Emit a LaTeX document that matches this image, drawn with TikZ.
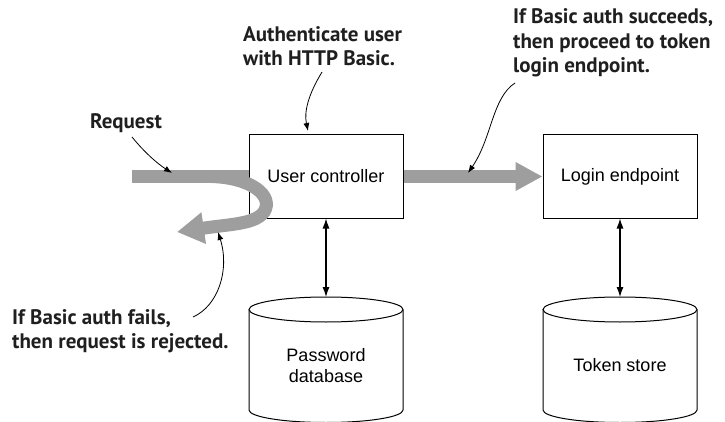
\documentclass[tikz,border=0pt]{standalone}
\usepackage{fontspec}
\setmainfont{Liberation Sans}
\newfontfamily\notefont{PT Sans}
\usetikzlibrary{arrows.meta}

\tikzset{
	box/.style={draw,line width=1pt,fill=white,minimum width=154pt,
		minimum height=83pt,inner sep=0pt,
		font=\fontsize{18}{22}\selectfont},
	storetext/.style={align=center,inner sep=0pt,
		font=\fontsize{18}{21}\selectfont},
	note/.style={align=left,inner sep=0pt,anchor=west,
		text=black!88,font=\notefont\bfseries\fontsize{21}{24.5}\selectfont},
	flow/.style={line width=13pt,color=black!38},
	callout/.style={line width=0.8pt,-{Latex[length=8pt,width=6pt]}},
	link/.style={line width=1.1pt,{Latex[length=10pt,width=7pt]}-{Latex[length=10pt,width=7pt]}}
}

\begin{document}
\begin{tikzpicture}[x=1pt,y=-1pt]

\def\storetop{309.5}
\def\storebottom{410}
\def\rx{77}
\def\ry{12.5}

\useasboundingbox (0,0) rectangle (725,422);

\node (uc) at (326,176.5) [box] {User controller};
\node (login) at (620,176.5) [box] {Login endpoint};

% data stores
\draw[line width=1pt,fill=white] (249,\storetop) -- (249,\storebottom)
	arc[start angle=180,end angle=0,x radius=\rx,y radius=\ry]
	-- (403,\storetop);
\draw[line width=1pt] (326,\storetop) ellipse[x radius=\rx,y radius=\ry];
\coordinate (pwdbtop) at (326,297);
\node (pwdb) at (326,366) [storetext] {Password\\database};

\draw[line width=1pt,fill=white] (543,\storetop) -- (543,\storebottom)
	arc[start angle=180,end angle=0,x radius=\rx,y radius=\ry]
	-- (697,\storetop);
\draw[line width=1pt] (620,\storetop) ellipse[x radius=\rx,y radius=\ry];
\coordinate (tokentop) at (620,297);
\node (token) at (620,365) [storetext] {Token store};

\draw[link] (uc.south) -- (pwdbtop);
\draw[link] (login.south) -- (tokentop);

% request flow
\coordinate (reqstart) at (132,176.5);
\coordinate (turn) at (212,176.5);
\coordinate (rejtip) at (177,232);
\draw[flow] (reqstart) -- (uc.west);
\draw[flow,-{Triangle[length=27pt,width=30pt]}] (turn)
	.. controls (252,178) and (274,196) .. (264,212)
	.. controls (255,224) and (232,224) .. (rejtip);
\draw[flow,-{Triangle[length=27pt,width=27pt]}] (uc.east) -- (login.west);

% notes
\node (authnote) at (243,46) [note] {Authenticate user\\with HTTP Basic.};
\node (okntote) at (513,43) [note] {If Basic auth succeeds,\\then proceed to token\\login endpoint.};
\node (reqnote) at (90,123) [note] {Request};
\node (failnote) at (12,331) [note] {If Basic auth fails,\\then request is rejected.};

\coordinate (authfrom) at (322,72);
\coordinate (authto) at (308,131);
\coordinate (okfrom) at (515,83);
\coordinate (okto) at (468,173);
\coordinate (reqfrom) at (132,137);
\coordinate (reqto) at (172,173);
\coordinate (failfrom) at (193,317);
\coordinate (failto) at (218,232);

\draw[callout] (authfrom) .. controls (308,95) and (304,112) .. (authto);
\draw[callout] (okfrom) .. controls (492,98) and (492,138) .. (okto);
\draw[callout] (reqfrom) .. controls (145,153) and (158,164) .. (reqto);
\draw[callout] (failfrom) .. controls (218,306) and (230,270) .. (failto);

\end{tikzpicture}
\end{document}
